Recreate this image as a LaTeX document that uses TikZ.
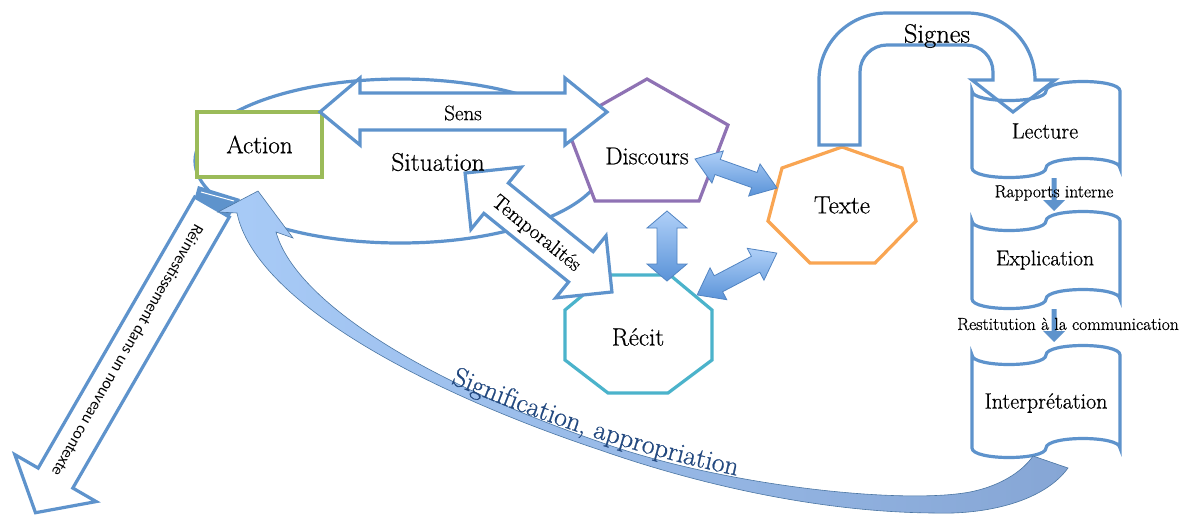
\documentclass[tikz,border=0pt]{standalone}
\usepackage{fontspec}
\newfontfamily\carlito{Carlito}
\newfontfamily\lmheavy{Latin Modern Roman}[FakeBold=0.6]
\usetikzlibrary{decorations.text}
\definecolor{bl}{HTML}{5E93CC}
\definecolor{grn}{HTML}{9BBB59}
\definecolor{pur}{HTML}{8F72B4}
\definecolor{orng}{HTML}{F9A552}
\definecolor{tl}{HTML}{4BB3CB}
\definecolor{sigblue}{HTML}{22487F}
\definecolor{lightb}{HTML}{B0D0F8}
\definecolor{midb}{HTML}{5A93D8}
\definecolor{headb}{HTML}{A8CBF7}
\definecolor{deepb}{HTML}{4A83CC}
\definecolor{endb}{HTML}{86A6D5}
\newcommand\fs[1]{\lmheavy\fontsize{#1}{#1}\selectfont}
\newcommand\dblarr[8]{%
 \begin{scope}[shift={(#1,#2)},rotate=#3]
 \path[#8] ({-#4/2},0) -- ({-#4/2+#7},#6) -- ({-#4/2+#7},#5) -- ({#4/2-#7},#5) -- ({#4/2-#7},#6) -- ({#4/2},0) -- ({#4/2-#7},-#6) -- ({#4/2-#7},-#5) -- ({-#4/2+#7},-#5) -- ({-#4/2+#7},-#6) -- cycle;
 \end{scope}}
\newcommand\tapeshape[5]{%
 \draw[outl,fill=white] (#1,#2) .. controls (#1,{#2+4*#5/3}) and ({(#1+#3)/2},{#2+4*#5/3}) .. ({(#1+#3)/2},#2) .. controls ({(#1+#3)/2},{#2-4*#5/3}) and (#3,{#2-4*#5/3}) .. (#3,#2) -- (#3,#4) .. controls (#3,{#4-4*#5/3}) and ({(#1+#3)/2},{#4-4*#5/3}) .. ({(#1+#3)/2},#4) .. controls ({(#1+#3)/2},{#4+4*#5/3}) and (#1,{#4+4*#5/3}) .. (#1,#4) -- cycle;}
\tikzset{
 outl/.style={draw=bl, line width=3.2pt, line join=miter},
 wblock/.style={outl, fill=white},
 gblock/.style={draw=midb!90!black, line width=0.8pt, top color=lightb, bottom color=midb},
 lbl/.style={inner sep=0pt, text=black},
}
\begin{document}
\begin{tikzpicture}[x=1pt,y=-1pt]
\fill[white] (0,0) rectangle (1195,515);
\useasboundingbox (0,0) rectangle (1195,515);

% ellipse "Situation"
\draw[outl] (400,161) ellipse [x radius=205, y radius=82];

% Action box
\node[draw=grn, line width=3.2pt, fill=white, minimum width=125pt, minimum height=65pt, inner sep=0pt] (action) at (259.5,144.5) {};

% Recit octagon
\draw[draw=tl, line width=3.2pt, fill=white] (607,275) -- (670,275) -- (712,310) -- (712,360) -- (668,393) -- (608,393) -- (565,360) -- (565,310) -- cycle;
% Discours pentagon
\draw[draw=pur, line width=3.2pt, fill=white] (647,79) -- (728,125) -- (699,201) -- (595,201) -- (566,125) -- cycle;
% Texte heptagon
\draw[draw=orng, line width=3.2pt, fill=white] (842,147) -- (902,168) -- (916,221) -- (875,263) -- (810,263) -- (768,221) -- (782,168) -- cycle;

% Sens double arrow
\draw[wblock] (320,112) -- (360,78) -- (360,93) -- (565,93) -- (565,78) -- (607,112) -- (565,145) -- (565,130) -- (360,130) -- (360,145) -- cycle;

% Temporalites double arrow
\dblarr{538.5}{232.5}{-39}{189}{19.5}{40}{40}{wblock}

% scrolls
\tapeshape{972}{91}{1120}{168}{9.5}
\tapeshape{972}{221}{1120}{299}{9.5}
\tapeshape{972}{355}{1120}{448}{9.5}

% Signes U-turn arrow
\draw[outl] (819,145) -- (819,80) .. controls (819,43) and (849,13) .. (887,13) -- (967,13) .. controls (1005,13) and (1035,43) .. (1035,80) -- (1055,80) -- (1013,112) -- (972,80) -- (993,80) -- (993,72) .. controls (993,57) and (981,45) .. (966,45) -- (887,45) .. controls (872,45) and (860,57) .. (860,72) -- (860,145) -- cycle;

% small arrows between scrolls
\fill[bl] (1051.5,178) -- (1056.5,178) -- (1056.5,200) -- (1065,200) -- (1054,211) -- (1043,200) -- (1051.5,200) -- cycle;
\fill[bl] (1051.5,309) -- (1056.5,309) -- (1056.5,331) -- (1065,331) -- (1054,342) -- (1043,331) -- (1051.5,331) -- cycle;

% 3D double arrows
\dblarr{736}{173.5}{-19.5}{87}{8}{17}{24}{gblock}
\dblarr{667}{246}{90}{70}{10}{20}{17}{gblock}
\dblarr{737}{274}{27.7}{90}{9}{18}{24}{gblock}

% Reinvestissement arrow
\begin{scope}[shift={(212,207)},rotate=-120]
\draw[wblock] (0,20) -- (313,20) -- (313,47) -- (353,0) -- (313,-47) -- (313,-20) -- (0,-20) -- cycle;
\end{scope}
\fill[bl] (195,197) -- (198,186) -- (240,199) -- (229,217) -- cycle;
\draw[white, line width=1pt] (201,192) -- (234,201);

% big curved arrow
\path[draw=bl!80!black, line width=0.6pt, left color=headb, middle color=deepb, right color=endb]
 (258,191) -- (293,238) -- (276,232)
 .. controls (295,300) and (420,380) .. (600,442)
 .. controls (720,485) and (900,505) .. (970,492)
 .. controls (1005,485) and (1025,468) .. (1033,456)
 -- (1068,468)
 .. controls (1045,500) and (990,515) .. (933,513)
 .. controls (820,512) and (700,485) .. (600,450)
 .. controls (420,390) and (255,300) .. (237,213)
 -- (218,212) -- cycle;

% curved label
\path[decorate, decoration={text along path, text={|\fs{27.5}\color{sigblue}|Signification, appropriation}, text align=center}]
 (440,379) .. controls (540,422) and (640,456) .. (748,478);

% labels
\node[lbl, font=\fs{25}] (actiontxt) at (action) {Action};
\node[lbl, font=\fs{21}] (sens) at (463,113) {Sens};
\node[lbl, font=\fs{25.5}] (situation) at (438,162) {Situation};
\node[lbl, font=\fs{24.5}] (discours) at (647,156) {Discours};
\node[lbl, font=\fs{25}] (texte) at (842,205) {Texte};
\node[lbl, font=\fs{25}] (recit) at (638,337) {Récit};
\node[lbl, font=\fs{26.5}] (signes) at (937,36) {Signes};
\node[lbl, font=\fs{22}] (lecture) at (1045,131) {Lecture};
\node[lbl, font=\fs{17.5}] (rapports) at (1054,193) {Rapports interne};
\node[lbl, font=\fs{21.5}] (explication) at (1045,260) {Explication};
\node[lbl, font=\fs{17.5}] (restitution) at (1068,324) {Restitution à la communication};
\node[lbl, font=\fs{22}] (interp) at (1046,403) {Interprétation};
\node[lbl, font=\fs{20.8}, rotate=-39] (temp) at (536,234) {Temporalités};
\node[lbl, font={\carlito\fontsize{16}{16}\selectfont}, rotate=-120] (reinv) at (128,351) {Réinvestissement dans un nouveau contexte};
\end{tikzpicture}
\end{document}
